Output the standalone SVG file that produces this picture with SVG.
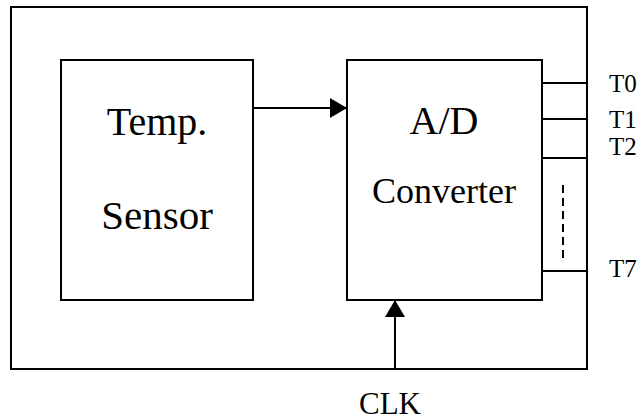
<svg xmlns="http://www.w3.org/2000/svg" width="637" height="420" viewBox="0 0 637 420">
<style>
.box{fill:none;stroke:#000;stroke-width:2}
.ln{fill:none;stroke:#000;stroke-width:2}
.t{font-family:"Liberation Serif","Times New Roman",serif;fill:#000}
.pin{font-size:25px}
</style>
<defs>
<marker id="ah" markerWidth="17" markerHeight="20" refX="17" refY="10" orient="auto" markerUnits="userSpaceOnUse">
<path d="M0,0 L17,10 L0,20 Z" fill="#000"/>
</marker>
</defs>
<g id="outer"><rect class="box" x="11" y="7" width="576" height="362"/></g>
<g id="sensor">
<rect class="box" x="61" y="60" width="192" height="240"/>
<text class="t" x="157" y="135" font-size="40" text-anchor="middle">Temp.</text>
<text class="t" x="157" y="229" font-size="41" text-anchor="middle">Sensor</text>
</g>
<g id="adc">
<rect class="box" x="347" y="60" width="195" height="240"/>
<text class="t" x="444" y="134" font-size="40" text-anchor="middle">A/D</text>
<text class="t" x="444" y="203" font-size="36" text-anchor="middle">Converter</text>
</g>
<g id="connectors">
<line class="ln" x1="253" y1="108" x2="347" y2="108" marker-end="url(#ah)"/>
<line class="ln" x1="395" y1="369" x2="395" y2="300" marker-end="url(#ah)"/>
<line class="ln" x1="542" y1="83" x2="587" y2="83"/>
<line class="ln" x1="542" y1="119" x2="587" y2="119"/>
<line class="ln" x1="542" y1="158" x2="587" y2="158"/>
<line class="ln" x1="542" y1="271" x2="587" y2="271"/>
<line class="ln" x1="563" y1="185" x2="563" y2="258" stroke-dasharray="8,5"/>
</g>
<g id="labels">
<text class="t pin" x="609" y="92">T0</text>
<text class="t pin" x="609" y="128">T1</text>
<text class="t pin" x="609" y="155">T2</text>
<text class="t pin" x="609" y="277">T7</text>
<text class="t" x="390" y="414" font-size="31" text-anchor="middle">CLK</text>
</g>
</svg>
